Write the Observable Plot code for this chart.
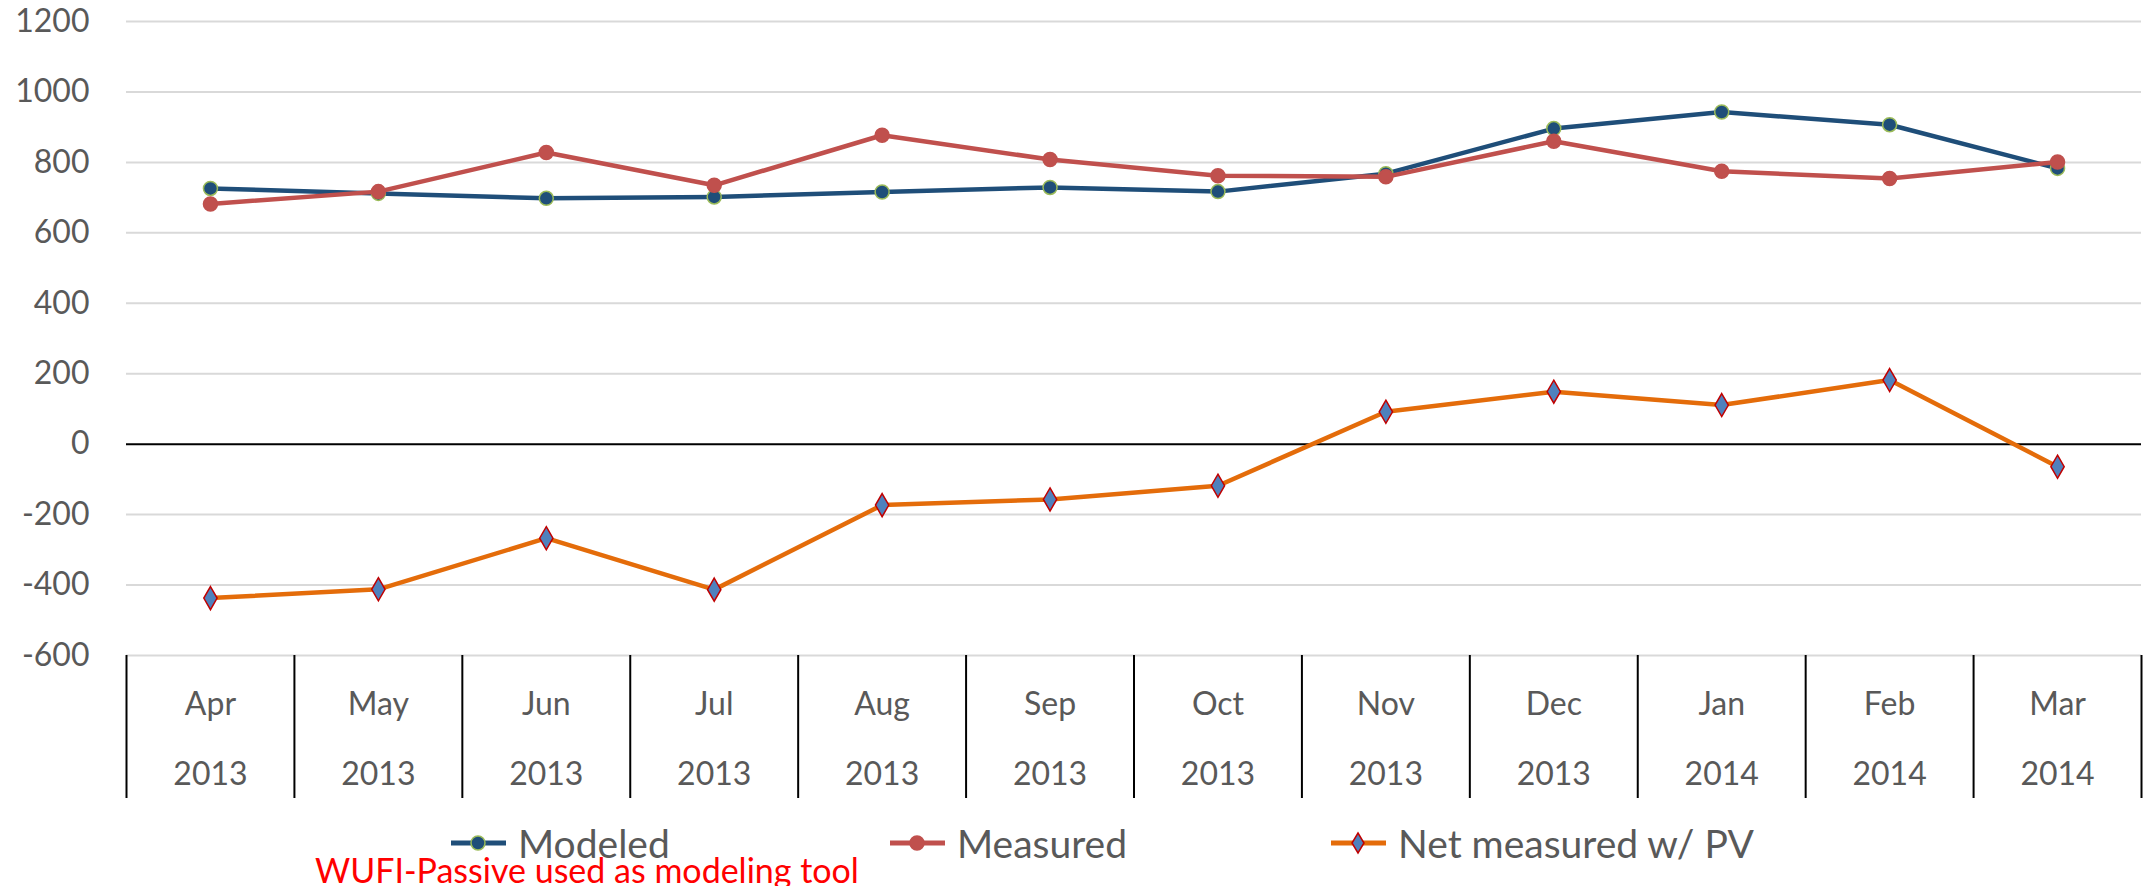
<!DOCTYPE html>
<html>
<head>
<meta charset="utf-8">
<script src="https://cdn.jsdelivr.net/npm/d3@7"></script>
<script src="https://cdn.jsdelivr.net/npm/@observablehq/plot@0.6"></script>
<style>
  html, body { margin: 0; padding: 0; background: #fff; }
  body { width: 2149px; height: 886px; overflow: hidden; font-family: Lato, "Open Sans", sans-serif; }
  #legend { position: relative; width: 2149px; height: 86px; }
  .item { position: absolute; top: 18px; height: 50px; display: flex; align-items: center; font-size: 39px; color: #595959; white-space: nowrap; }
  .item svg { margin-right: 12px; }
  #caption { position: absolute; left: 315px; top: 50px; font-size: 34px; color: #FF0000; white-space: nowrap; line-height: 40px; }
</style>
</head>
<body>
<div id="chart"></div>
<div id="legend"></div>
<script>
const months = ["Apr","May","Jun","Jul","Aug","Sep","Oct","Nov","Dec","Jan","Feb","Mar"];
const years = ["2013","2013","2013","2013","2013","2013","2013","2013","2013","2014","2014","2014"];
const seriesNames = ["Modeled","Measured","Net measured w/ PV"];
const modeled  = [726, 712, 698, 702, 716, 729, 717, 768, 896, 943, 907, 783];
const measured = [682, 717, 828, 735, 877, 808, 762, 759, 860, 775, 754, 801];
const netPV    = [-437, -412, -267, -413, -173, -157, -118, 92, 149, 111, 182, -64];
const yTicks = [-600, -400, -200, 0, 200, 400, 600, 800, 1000, 1200];

const styles = {
  "Modeled": {line: "#1F4E79", fill: "#1F4E79", stroke: "#9BBB59", symbol: "circle"},
  "Measured": {line: "#C0504D", fill: "#C0504D", stroke: "#C0504D", symbol: "circle"},
  "Net measured w/ PV": {line: "#E46C0A", fill: "#4F81BD", stroke: "#C00000", symbol: "diamond"}
};

const valueSets = [modeled, measured, netPV];
const rows = [];
seriesNames.forEach((s, k) => {
  valueSets[k].forEach((v, i) => rows.push({series: s, idx: i, pos: i + 0.5, month: months[i], year: years[i], value: v}));
});

const marks = [
  Plot.ruleY(yTicks.filter(d => d !== 0), {stroke: "#D9D9D9", strokeWidth: 2}),
  Plot.ruleY([0], {stroke: "#000", strokeWidth: 2}),
  Plot.axisY({ticks: yTicks, tickSize: 0, tickPadding: 37, tickFormat: d => String(d), fontSize: 32, color: "#595959", label: null}),
  Plot.axisX({ticks: d3.range(0, months.length + 1), tickSize: 143, tickFormat: () => "", stroke: "#000", strokeWidth: 2, label: null}),
  Plot.axisX({ticks: months.map((m, i) => i + 0.5), tickSize: 0, tickPadding: 37, tickFormat: d => months[Math.floor(d)], fontSize: 32, color: "#595959", label: null}),
  Plot.axisX({ticks: years.map((y, i) => i + 0.5), tickSize: 0, tickPadding: 107, tickFormat: d => years[Math.floor(d)], fontSize: 32, color: "#595959", label: null})
];
seriesNames.forEach(s => {
  const data = rows.filter(r => r.series === s);
  const st = styles[s];
  marks.push(Plot.line(data, {x: "pos", y: "value", stroke: st.line, strokeWidth: 4.5}));
  marks.push(Plot.dot(data, {x: "pos", y: "value", symbol: st.symbol, r: st.symbol === "diamond" ? 7 : 7, fill: st.fill, stroke: st.stroke, strokeWidth: 1.5}));
});

const chart = Plot.plot({
  width: 2149,
  height: 800,
  marginLeft: 126,
  marginRight: 8,
  marginTop: 21,
  marginBottom: 145,
  style: {fontFamily: "Lato, 'Open Sans', sans-serif", background: "#fff"},
  x: {type: "linear", domain: [0, months.length], axis: null, label: null},
  y: {domain: [-600, 1200], axis: null, label: null},
  marks
});
document.getElementById("chart").appendChild(chart);

// legend
const legend = document.getElementById("legend");
const legendLeft = {"Modeled": 451, "Measured": 890, "Net measured w/ PV": 1331};
seriesNames.forEach(s => {
  const st = styles[s];
  const div = document.createElement("div");
  div.className = "item";
  div.style.left = legendLeft[s] + "px";
  const marker = st.symbol === "diamond"
    ? `<path d="M27,15 L33,25 L27,35 L21,25 Z" fill="${st.fill}" stroke="${st.stroke}" stroke-width="1.5"/>`
    : `<circle cx="27" cy="25" r="7" fill="${st.fill}" stroke="${st.stroke}" stroke-width="1.5"/>`;
  div.innerHTML = `<svg width="55" height="50"><line x1="0" x2="55" y1="25" y2="25" stroke="${st.line}" stroke-width="5"/>${marker}</svg><span>${s}</span>`;
  legend.appendChild(div);
});
const cap = document.createElement("div");
cap.id = "caption";
cap.textContent = "WUFI-Passive used as modeling tool";
legend.appendChild(cap);
</script>
</body>
</html>
